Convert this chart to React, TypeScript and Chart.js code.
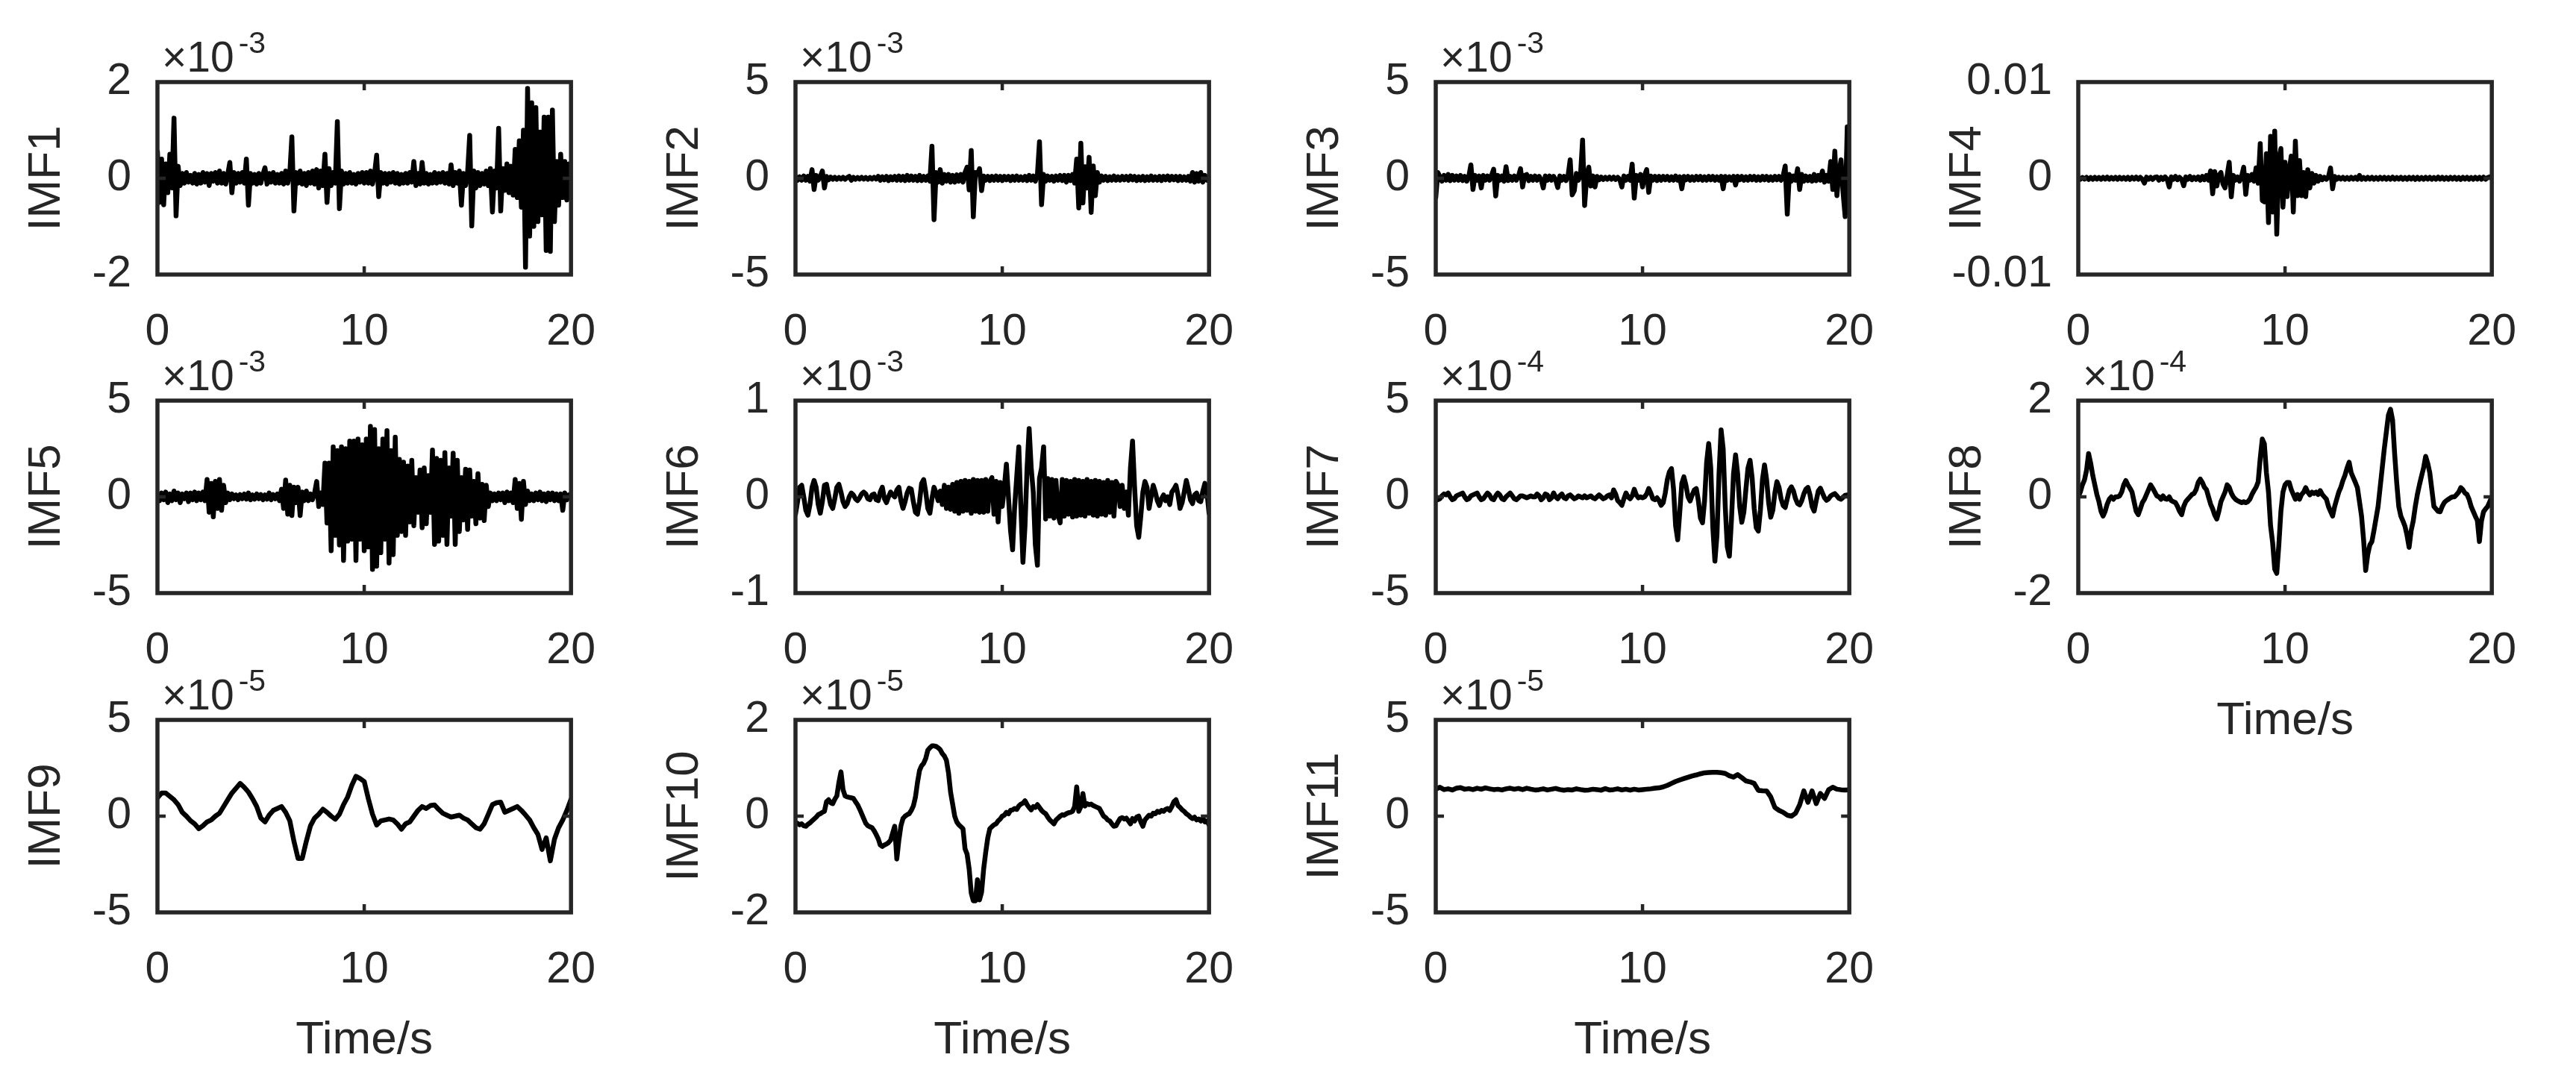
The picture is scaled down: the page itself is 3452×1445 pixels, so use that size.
import { useEffect, useRef } from 'react'
import { Chart, registerables } from 'chart.js'

Chart.register(...registerables)

// ---- data (values in the units shown on each y axis) ----
const imfNames = ['IMF1', 'IMF2', 'IMF3', 'IMF4', 'IMF5', 'IMF6', 'IMF7', 'IMF8', 'IMF9', 'IMF10', 'IMF11']
const exponents = ['-3', '-3', '-3', '', '-3', '-3', '-4', '-4', '-5', '-5', '-5']
const yLimits = [2, 5, 5, 10, 5, 1, 5, 2, 5, 2, 5]
const yTickLabels = [
  ['-2', '0', '2'],
  ['-5', '0', '5'],
  ['-5', '0', '5'],
  ['-0.01', '0', '0.01'],
  ['-5', '0', '5'],
  ['-1', '0', '1'],
  ['-5', '0', '5'],
  ['-2', '0', '2'],
  ['-5', '0', '5'],
  ['-2', '0', '2'],
  ['-5', '0', '5'],
]
const xTickValues = [0, 10, 20]
const xTickLabels = ['0', '10', '20']
const timeSpan = 20
const showTimeLabel = [false, false, false, false, false, false, false, true, true, true, true]

const imf1 = [
  0.55, -0.5, 0.4, -0.55, 0.3, -0.3, 0.5, -0.2, 1.25, -0.78,
  0.25, -0.15, 0.1, -0.1, 0.12, -0.08, 0.06, -0.1, 0.1, -0.12,
  0.08, -0.1, 0.12, -0.08, 0.1, -0.15, 0.1, -0.06, 0.12, -0.1,
  0.15, -0.1, 0.1, -0.12, 0.08, 0.33, -0.3, 0.12, -0.1, 0.1,
  -0.08, 0.12, -0.1, 0.4, -0.56, 0.1, -0.1, 0.08, -0.12, 0.1,
  -0.1, 0.08, 0.22, -0.12, 0.1, -0.08, 0.12, -0.1, 0.08, -0.1,
  0.1, -0.12, 0.15, -0.1, 0.1, 0.86, -0.68, 0.12, -0.1, 0.15,
  -0.12, 0.1, -0.15, 0.12, -0.1, 0.15, -0.12, 0.18, -0.2, 0.15,
  -0.15, 0.5, -0.5, 0.2, -0.15, 0.12, -0.1, 1.18, -0.63, 0.15,
  -0.12, 0.1, -0.1, 0.12, -0.1, 0.08, -0.12, 0.1, -0.08, 0.12,
  -0.1, 0.12, -0.1, 0.15, -0.12, 0.1, 0.48, -0.38, 0.12, -0.1,
  0.1, -0.12, 0.1, -0.08, 0.12, -0.1, 0.1, -0.12, 0.08, -0.1,
  0.1, -0.1, 0.12, -0.08, 0.35, -0.15, 0.1, -0.12, 0.33, -0.1,
  0.1, -0.12, 0.08, -0.1, 0.12, -0.1, 0.1, -0.08, 0.12, -0.1,
  0.1, -0.12, 0.28, -0.15, 0.12, -0.1, 0.15, -0.56, 0.1, -0.15,
  0.12, 0.89, -0.99, 0.15, -0.2, 0.12, -0.15, 0.1, -0.12, 0.15,
  -0.15, 0.2, -0.7, 0.15, -0.2, 1.04, -0.68, 0.2, -0.25, 0.3,
  -0.3, 0.25, -0.35, 0.6, -0.4, 0.78, -0.6, 1.0, -1.85, 1.87,
  -1.2, 1.57, -1.0, 1.47, -0.9, 0.96, -0.76, 1.27, -1.5, 1.27,
  -1.52, 1.42, -0.9, 0.35, -0.56, 0.5, -0.4, 0.35, -0.45, 0.3,
  -0.2,
]

const imf2 = [
  0.1, -0.1, 0.08, -0.1, 0.12, -0.1, 0.1, -0.15, 0.45, -0.58,
  0.15, -0.1, 0.1, 0.38, -0.5, 0.1, -0.08, 0.06, -0.05, 0.05,
  -0.05, 0.04, -0.04, 0.05, -0.05, 0.04, 0.1, -0.1, 0.05, -0.05,
  0.04, -0.04, 0.05, -0.04, 0.04, -0.05, 0.04, -0.04, 0.05, -0.04,
  0.1, -0.1, 0.08, -0.08, 0.1, -0.12, 0.08, -0.08, 0.1, -0.1,
  0.12, -0.1, 0.1, -0.12, 0.15, -0.1, 0.12, -0.1, 0.1, -0.12,
  0.15, -0.12, 0.1, -0.1, 0.12, -0.15, 1.67, -2.15, 0.3, -0.2,
  0.45, -0.25, 0.2, -0.15, 0.2, -0.2, 0.15, -0.2, 0.18, -0.15,
  0.2, -0.2, 0.3, 0.58, -0.6, 1.44, -2.0, 0.3, 0.2, 0.5,
  -0.64, 0.12, -0.1, 0.1, -0.12, 0.1, -0.1, 0.12, -0.1, 0.1,
  -0.12, 0.1, -0.08, 0.1, -0.12, 0.1, -0.1, 0.12, -0.1, 0.08,
  -0.1, 0.1, -0.12, 0.15, -0.1, 0.12, -0.15, 0.2, 1.9, -1.37,
  0.2, -0.15, 0.12, -0.1, 0.1, -0.15, 0.12, -0.1, 0.15, -0.12,
  0.15, -0.2, 0.15, -0.12, 0.2, -0.25, 1.0, -1.54, 1.82, -1.28,
  0.6, -0.5, 1.09, -1.77, 0.64, -0.9, 0.3, -0.2, 0.12, -0.1,
  0.1, -0.12, 0.08, -0.1, 0.12, -0.1, 0.08, -0.1, 0.1, -0.08,
  0.1, -0.1, 0.12, -0.08, 0.1, -0.12, 0.08, -0.1, 0.1, -0.12,
  0.08, -0.1, 0.12, -0.1, 0.08, -0.1, 0.1, -0.12, 0.1, -0.08,
  0.12, -0.1, 0.1, -0.08, 0.1, -0.12, 0.1, -0.1, 0.08, -0.1,
  0.1, -0.15, 0.3, -0.2, 0.25, -0.15, 0.3, -0.2, 0.15, -0.1,
  0.05,
]

const imf3 = [
  -1.0, 0.3, 0.1, -0.15, 0.15, -0.1, 0.2, -0.12, 0.15, -0.1,
  0.12, -0.1, 0.15, -0.12, 0.1, -0.15, 0.1, 0.7, -0.58, 0.15,
  -0.1, 0.12, -0.5, 0.15, -0.1, 0.12, -0.1, 0.15, 0.47, -0.92,
  0.15, -0.1, 0.12, -0.15, 0.6, -0.12, 0.1, -0.1, 0.12, -0.1,
  0.1, 0.5, -0.45, 0.15, 0.2, -0.12, 0.1, -0.1, 0.12, -0.1,
  0.1, -0.08, -0.5, 0.12, -0.1, 0.12, -0.1, 0.1, -0.08, -0.48,
  0.12, -0.1, 0.1, -0.12, 0.15, 0.96, -0.86, -0.64, 0.25, -0.1,
  0.15, 1.99, -1.41, 0.1, 0.58, -0.4, 0.12, -0.45, 0.1, -0.08,
  0.06, -0.06, 0.05, -0.05, 0.06, -0.05, 0.06, -0.06, 0.05, -0.05,
  -0.45, 0.12, -0.1, 0.1, -0.1, 0.74, -1.03, 0.15, -0.1, 0.2,
  -0.45, 0.15, 0.45, -0.73, 0.12, -0.1, 0.1, -0.12, 0.1, -0.1,
  0.1, -0.08, 0.1, -0.1, 0.08, -0.1, 0.12, -0.1, 0.08, -0.54,
  0.1, -0.08, 0.1, -0.1, 0.08, -0.1, 0.1, -0.08, 0.1, -0.1,
  0.08, -0.1, 0.1, -0.08, 0.1, -0.1, 0.08, -0.1, 0.1, -0.54,
  0.1, -0.1, 0.08, -0.1, 0.1, -0.35, 0.1, -0.08, 0.1, -0.1,
  0.08, -0.1, 0.1, -0.08, 0.1, -0.1, 0.08, -0.1, 0.1, -0.08,
  0.1, -0.1, 0.08, -0.1, 0.1, -0.08, 0.1, -0.1, 0.12, 0.64,
  -1.86, 0.2, -0.15, 0.12, -0.1, 0.5, -0.58, 0.2, -0.15, 0.12,
  -0.12, 0.1, -0.15, 0.2, -0.12, 0.15, -0.1, 0.38, -0.2, 0.15,
  -0.15, 0.87, -0.58, 1.41, -0.9, 0.3, 0.96, -0.77, -1.99, 2.67,
  -0.2,
]

// IMF4 in units of 1e-3 (axis labelled -0.01 .. 0.01)
const imf4 = [
  0.1, -0.1, 0.08, -0.08, 0.1, -0.12, 0.08, -0.1, 0.1, -0.08,
  0.08, -0.1, 0.1, -0.08, 0.12, -0.1, 0.08, -0.08, 0.1, -0.1,
  0.1, -0.08, 0.08, -0.1, 0.1, -0.12, 0.1, -0.08, 0.12, -0.1,
  0.1, -0.1, -0.5, 0.12, -0.1, 0.1, -0.12, 0.1, 0.15, -0.2,
  0.1, -0.12, 0.15, -0.1, -0.9, 0.15, -0.1, 0.2, -0.15, 0.1,
  -0.12, -0.77, 0.15, -0.1, 0.2, -0.15, 0.1, -0.12, 0.15, -0.2,
  0.2, -0.15, 0.3, -0.2, 0.77, -1.6, 0.7, -0.8, 0.3, 0.6,
  -0.6, -1.0, 0.3, 1.67, -1.92, 0.3, -0.2, 0.15, -0.3, 0.2,
  1.15, -1.67, 0.3, -0.2, 0.4, -0.3, 1.08, -0.5, 3.6, -2.3,
  -2.44, 2.56, -4.6, 4.36, -3.5, 4.9, -5.8, 2.0, 3.1, -3.0,
  1.67, -1.9, 0.8, 2.3, -3.5, 3.85, -1.8, 1.85, -1.8, 0.6,
  -1.9, 0.9, -1.0, 0.5, -0.5, 0.3, -0.3, 0.2, -0.15, 0.1,
  -0.1, 0.15, 1.08, -1.08, 0.2, -0.1, 0.1, -0.08, 0.1, -0.1,
  0.08, -0.1, 0.1, -0.08, 0.1, -0.1, 0.3, -0.1, 0.08, -0.1,
  0.1, -0.08, 0.1, -0.1, 0.08, -0.1, 0.1, -0.08, 0.1, -0.1,
  0.08, -0.1, 0.12, -0.1, 0.08, -0.08, 0.1, -0.1, 0.08, -0.1,
  0.1, -0.08, 0.1, -0.12, 0.1, -0.1, 0.08, -0.1, 0.1, -0.08,
  0.1, -0.1, 0.08, -0.1, 0.12, -0.08, 0.1, -0.1, 0.08, -0.1,
  0.1, -0.08, 0.1, -0.1, 0.08, -0.12, 0.1, -0.08, 0.1, -0.1,
  0.08, -0.1, 0.1, -0.08, 0.1, -0.1, 0.12, -0.1, 0.08, 0.15,
  0.1,
]

const imf5 = [
  0.1, -0.2, 0.2, -0.15, 0.25, -0.3, 0.15, -0.2, 0.3, -0.15,
  0.2, -0.3, 0.15, -0.1, 0.2, -0.25, 0.2, -0.15, 0.25, -0.2,
  0.2, -0.15, 0.25, -0.2, 0.9, -0.8, 0.7, -1.04, 0.8, -0.6,
  0.9, -0.7, 0.6, -0.3, 0.2, -0.15, 0.15, -0.1, 0.1, -0.15,
  0.12, -0.1, 0.15, -0.12, 0.2, -0.15, 0.1, -0.12, 0.15, -0.1,
  0.12, -0.15, 0.1, -0.12, 0.2, -0.15, 0.12, -0.1, 0.15, -0.2,
  0.4, -0.6, 0.87, -0.9, 0.6, -0.97, 0.5, -0.3, 0.5, -0.97,
  0.25, -0.2, 0.3, -0.2, 0.15, -0.15, 0.2, 0.8, -0.5, 0.2,
  -0.4, 1.75, -1.36, 1.75, -2.8, 2.6, -2.0, 2.4, -2.5, 2.6,
  -3.3, 2.5, -2.3, 2.9, -2.2, 2.9, -3.3, 3.0, -2.2, 2.7,
  -2.8, 3.0, -2.6, 3.66, -3.77, 3.5, -3.6, 2.5, -2.9, 3.0,
  -2.2, 3.44, -3.44, 2.4, -3.0, 3.1, -2.0, 1.95, -1.8, 1.8,
  -2.0, 1.6, -1.3, 1.9, -1.5, 1.0, -0.8, 1.4, -1.6, 1.5,
  -1.4, 1.1, -0.8, 2.43, -2.47, 2.0, -2.3, 1.9, -2.0, 2.3,
  -2.47, 1.5, -1.0, 2.27, -2.47, 1.9, -1.8, 1.0, -1.2, 1.43,
  -1.69, 1.4, -1.0, 0.8, -1.4, 1.2, -1.1, 0.65, -1.23, 0.6,
  -0.5, 0.2, -0.2, 0.15, -0.2, 0.2, -0.15, 0.2, -0.3, 0.25,
  -0.2, 0.2, -0.3, 0.9, -0.6, 0.7, -1.17, 0.8, -0.4, 0.3,
  -0.2, 0.15, -0.2, 0.2, -0.15, 0.25, -0.2, 0.15, -0.25, 0.2,
  -0.15, 0.2, -0.2, 0.15, -0.2, 0.15, -0.7, 0.2, -0.15, 0.1,
  0.0,
]

const imf6 = [
  -0.18, -0.05, 0.1, 0.12, 0.0, -0.14, -0.19, -0.08, 0.1, 0.17,
  0.1, -0.08, -0.17, -0.05, 0.12, 0.13, 0.02, -0.08, -0.12, -0.02,
  0.1, 0.13, 0.05, -0.05, -0.1, -0.07, 0.0, 0.04, 0.02, -0.02,
  -0.04, -0.01, 0.03, 0.05, 0.03, -0.02, -0.03, 0.02, 0.03, -0.03,
  -0.04, 0.05, 0.1, -0.02, -0.06, 0.0, 0.05, 0.02, 0.0, 0.07,
  0.1, -0.04, -0.12, -0.05, 0.04, 0.09, 0.08, -0.05, -0.16, -0.18,
  -0.05, 0.14, 0.18, 0.05, -0.12, -0.17, -0.02, 0.1, 0.04, -0.04,
  0.06, -0.08, 0.12, -0.12, 0.1, -0.13, 0.13, -0.15, 0.15, -0.17,
  0.16, -0.15, 0.17, -0.14, 0.16, -0.17, 0.18, -0.15, 0.17, -0.16,
  0.17, -0.16, 0.18, -0.15, 0.16, 0.2, -0.18, 0.16, -0.26, 0.15,
  -0.1, 0.1, 0.34, 0.0, -0.35, -0.55, -0.1, 0.21, 0.52, -0.1,
  -0.68, -0.3, 0.3, 0.71, 0.3, 0.05, -0.5, -0.71, 0.19, 0.3,
  0.52, -0.23, 0.19, -0.2, 0.18, -0.22, 0.17, -0.19, -0.27, 0.18,
  -0.2, 0.17, -0.18, 0.16, -0.21, 0.18, -0.2, 0.17, -0.19, 0.16,
  -0.2, 0.18, -0.17, 0.16, -0.19, 0.17, -0.2, 0.16, -0.18, 0.15,
  -0.19, 0.17, -0.16, 0.15, -0.2, 0.16, 0.12, -0.1, 0.12, -0.12,
  0.05, -0.19, 0.3, 0.58, 0.1, -0.3, -0.42, -0.2, 0.05, 0.16,
  0.1, -0.12, 0.0, 0.12, 0.05, -0.04, -0.09, -0.02, 0.02, -0.04,
  0.0, -0.08, 0.05, 0.08, 0.12, 0.02, -0.12, -0.06, 0.05, 0.17,
  0.08, -0.03, -0.07, 0.02, 0.04, -0.04, -0.05, 0.06, 0.14, 0.05,
  -0.17,
]

const imf7 = [
  0.0, -0.15, -0.1, 0.05, 0.15, 0.1, 0.2, 0.0, -0.15, -0.1,
  0.05, 0.1, 0.15, 0.2, 0.0, -0.15, -0.1, 0.05, 0.1, 0.15,
  0.2, 0.0, -0.15, -0.1, 0.05, 0.2, 0.1, -0.1, -0.15, 0.05,
  0.2, 0.1, -0.1, -0.15, 0.0, 0.1, 0.2, 0.05, -0.1, -0.15,
  -0.05, 0.05, 0.05, 0.0, -0.05, 0.0, 0.05, 0.0, 0.0, 0.15,
  0.05, -0.15, -0.05, 0.15, 0.1, -0.15, -0.05, 0.2, 0.0, -0.1,
  0.05, 0.15, -0.05, -0.1, 0.05, 0.1, 0.0, -0.1, -0.05, 0.05,
  0.0, -0.05, 0.05, -0.05, 0.0, 0.05, -0.05, -0.1, 0.0, 0.1,
  0.0, -0.1, -0.05, 0.05, 0.1, -0.05, 0.36, 0.15, -0.2, -0.3,
  -0.44, -0.1, 0.2, 0.0, -0.1, 0.05, 0.39, 0.1, -0.05, 0.0,
  -0.05, 0.0, 0.15, 0.43, 0.2, -0.1, -0.15, -0.05, -0.2, -0.44,
  -0.3, 0.2, 0.9, 1.3, 1.47, 0.4, -1.5, -2.23, -0.8, 0.7,
  1.04, 0.6, 0.0, -0.22, 0.1, 0.35, 0.43, -0.2, -1.1, -1.35,
  -0.2, 1.8, 2.77, 1.5, -1.6, -3.34, -2.0, 1.2, 3.48, 2.5,
  -0.5, -2.6, -3.08, -1.2, 1.2, 2.18, 1.2, -0.5, -1.32, -0.8,
  0.4, 1.5, 1.9, 1.0, -0.6, -1.6, -1.78, -0.7, 0.9, 1.66,
  0.9, -0.3, -1.06, -0.7, 0.2, 0.79, 0.5, -0.1, -0.45, -0.55,
  -0.1, 0.35, 0.52, 0.3, -0.1, -0.35, -0.42, -0.2, 0.15, 0.4,
  0.49, 0.1, -0.5, -0.74, -0.2, 0.3, 0.45, 0.2, -0.05, -0.18,
  -0.1, 0.05, 0.12, 0.17, 0.05, -0.08, -0.12, -0.02, 0.08, 0.1,
  0.0,
]

const imf8 = [
  0.0, 0.1, 0.25, 0.35, 0.55, 0.9, 0.7, 0.45, 0.25, 0.05,
  -0.1, -0.3, -0.4, -0.3, -0.15, -0.05, 0.0, -0.05, 0.0, 0.0,
  0.02, 0.1, 0.25, 0.34, 0.25, 0.18, 0.1, -0.1, -0.3, -0.37,
  -0.25, -0.12, -0.05, 0.05, 0.15, 0.25, 0.18, 0.1, 0.02, 0.0,
  -0.05, 0.02, -0.04, -0.05, 0.0, -0.08, -0.1, -0.12, -0.2, -0.3,
  -0.37, -0.2, -0.1, -0.05, 0.0, 0.05, 0.07, 0.15, 0.3, 0.37,
  0.3, 0.2, 0.15, 0.0, -0.15, -0.25, -0.38, -0.46, -0.3, -0.1,
  0.0, 0.1, 0.25, 0.2, 0.08, 0.0, -0.05, -0.08, -0.1, -0.12,
  -0.1, -0.12, -0.1, -0.05, 0.05, 0.13, 0.2, 0.31, 0.8, 1.2,
  1.1, 0.5, 0.1, -0.6, -0.95, -1.5, -1.59, -1.0, -0.3, 0.1,
  0.25, 0.3, 0.3, 0.15, 0.05, -0.05, 0.05, -0.05, 0.05, 0.1,
  0.19, 0.1, 0.04, 0.1, 0.07, 0.1, 0.05, 0.13, 0.05, 0.0,
  -0.05, -0.2, -0.3, -0.4, -0.2, -0.05, 0.1, 0.2, 0.34, 0.45,
  0.6, 0.72, 0.5, 0.4, 0.3, 0.19, -0.1, -0.4, -0.9, -1.53,
  -1.2, -1.0, -0.93, -0.7, -0.45, -0.2, 0.2, 0.6, 1.0, 1.35,
  1.7, 1.82, 1.6, 0.9, 0.3, -0.2, -0.4, -0.5, -0.61, -0.8,
  -1.05, -0.7, -0.5, -0.2, 0.05, 0.25, 0.43, 0.6, 0.84, 0.7,
  0.5, 0.15, -0.2, -0.25, -0.3, -0.31, -0.2, -0.12, -0.08, -0.05,
  -0.02, 0.0, 0.0, 0.05, 0.1, 0.19, 0.15, 0.08, 0.05, -0.05,
  -0.2, -0.3, -0.4, -0.49, -0.93, -0.5, -0.31, -0.25, -0.2, -0.1,
  0.0,
]

const imf9 = [
  0.95, 1.2, 1.2, 1.03, 0.85, 0.6, 0.2, 0.0, -0.24, -0.4,
  -0.65, -0.5, -0.3, -0.2, 0.0, 0.15, 0.5, 0.85, 1.2, 1.45,
  1.7, 1.5, 1.25, 0.9, 0.5, -0.1, -0.3, 0.05, 0.3, 0.4,
  0.5, 0.2, -0.24, -1.3, -2.2, -2.2, -1.3, -0.5, -0.1, 0.1,
  0.36, 0.2, 0.0, -0.16, 0.1, 0.6, 1.0, 1.6, 2.07, 1.95,
  1.8, 0.9, 0.1, -0.46, -0.25, -0.2, -0.15, -0.2, -0.4, -0.68,
  -0.4, -0.3, 0.0, 0.3, 0.5, 0.4, 0.55, 0.58, 0.35, 0.15,
  0.05, -0.05, 0.0, 0.05, -0.1, -0.2, -0.4, -0.6, -0.68, -0.4,
  0.1, 0.6, 0.7, 0.73, 0.2, 0.3, 0.4, 0.5, 0.3, 0.06,
  -0.2, -0.6, -0.95, -1.73, -1.13, -2.32, -1.2, -0.6, -0.2, 0.3,
  0.88,
]

const imf10 = [
  -0.13, -0.15, -0.18, -0.16, -0.2, -0.21, -0.17, -0.14, -0.1, -0.06,
  -0.02, 0.03, 0.05, 0.08, 0.1, 0.3, 0.34, 0.28, 0.26, 0.35,
  0.42, 0.7, 0.92, 0.55, 0.42, 0.4, 0.39, 0.38, 0.37, 0.3,
  0.24, 0.15, 0.05, -0.05, -0.15, -0.2, -0.22, -0.24, -0.3, -0.38,
  -0.47, -0.6, -0.63, -0.6, -0.58, -0.55, -0.5, -0.35, -0.21, -0.89,
  -0.5, -0.2, -0.05, 0.0, 0.03, 0.05, 0.12, 0.21, 0.39, 0.7,
  0.95, 1.05, 1.1, 1.2, 1.37, 1.42, 1.46, 1.46, 1.45, 1.42,
  1.38, 1.3, 1.25, 1.16, 0.9, 0.5, 0.25, 0.0, -0.12, -0.18,
  -0.22, -0.26, -0.68, -0.79, -1.1, -1.6, -1.76, -1.76, -1.32, -1.74,
  -1.58, -1.1, -0.75, -0.45, -0.26, -0.22, -0.18, -0.16, -0.1, -0.06,
  0.0, 0.02, 0.08, 0.05, 0.12, 0.13, 0.16, 0.14, 0.21, 0.25,
  0.27, 0.32, 0.24, 0.18, 0.13, 0.2, 0.18, 0.24, 0.18, 0.12,
  0.08, 0.05, -0.02, -0.08, -0.12, -0.16, -0.08, -0.04, 0.0, 0.03,
  0.02, 0.05, 0.07, 0.08, 0.1, 0.2, 0.61, 0.1, 0.2, 0.47,
  0.21, 0.26, 0.24, 0.25, 0.22, 0.2, 0.18, 0.16, 0.08, 0.0,
  -0.03, -0.08, -0.1, -0.16, -0.21, -0.2, -0.12, -0.05, -0.03, -0.06,
  -0.04, -0.1, -0.16, -0.05, -0.1, -0.02, 0.0, -0.12, -0.21, -0.08,
  -0.03, 0.02, 0.0, 0.06, 0.05, 0.1, 0.08, 0.12, 0.1, 0.14,
  0.16, 0.12, 0.2, 0.3, 0.34, 0.22, 0.18, 0.13, 0.1, 0.05,
  0.02, -0.02, -0.05, -0.02, -0.08, -0.06, -0.1, -0.04, -0.12, -0.1,
  -0.18,
]

const imf11 = [
  1.4, 1.5, 1.38, 1.42, 1.36, 1.45, 1.48, 1.4, 1.43, 1.38,
  1.45, 1.4, 1.47, 1.42, 1.38, 1.4, 1.36, 1.42, 1.45, 1.4,
  1.44, 1.38, 1.45, 1.4, 1.36, 1.38, 1.42, 1.36, 1.4, 1.44,
  1.38, 1.35, 1.38, 1.36, 1.42, 1.38, 1.35, 1.36, 1.4, 1.38,
  1.35, 1.43, 1.36, 1.38, 1.42, 1.36, 1.4, 1.35, 1.4, 1.36,
  1.38, 1.4, 1.42, 1.45, 1.47, 1.52, 1.6, 1.7, 1.8, 1.88,
  1.95, 2.02, 2.09, 2.14, 2.2, 2.25, 2.27, 2.28, 2.28, 2.26,
  2.22, 2.1, 2.03, 2.16, 2.0, 1.83, 1.78, 1.7, 1.34, 1.32,
  1.31, 1.0, 0.45, 0.3, 0.2, 0.05, 0.0, 0.15, 0.59, 1.31,
  0.72, 1.31, 0.65, 1.18, 0.92, 1.37, 1.5, 1.4, 1.37, 1.36,
  1.37,
]

const signals = [imf1, imf2, imf3, imf4, imf5, imf6, imf7, imf8, imf9, imf10, imf11]

// ---- layout ----
const colLeft = [211, 1066, 1924, 2785]
const rowTop = [110, 537, 965]
const BOX_W = 579
const BOX_H = 258
const Y_AXIS_W = 210
const PAD_TOP = 80
const PAD_RIGHT = 50
const X_AXIS_H = 220
const FONT = "'Liberation Sans', Arial, Helvetica, sans-serif"
const TEXT = '#262626'

const framePlugin = {
  id: 'imfFrame',
  afterDraw(chart: any, _args: any, opts: any) {
    const { ctx, chartArea: a, scales } = chart
    ctx.save()
    ctx.strokeStyle = TEXT
    ctx.lineWidth = 5.5
    ctx.strokeRect(a.left, a.top, a.right - a.left, a.bottom - a.top)

    // inward tick marks at x = 10 and y = 0
    ctx.lineWidth = 4.5
    const xm = scales.x.getPixelForValue(10)
    const y0 = scales.y.getPixelForValue(0)
    ctx.beginPath()
    ctx.moveTo(xm, a.bottom)
    ctx.lineTo(xm, a.bottom - 11)
    ctx.moveTo(xm, a.top)
    ctx.lineTo(xm, a.top + 11)
    ctx.moveTo(a.left, y0)
    ctx.lineTo(a.left + 11, y0)
    ctx.moveTo(a.right, y0)
    ctx.lineTo(a.right - 11, y0)
    ctx.stroke()

    // exponent label, e.g. x10^-3
    if (opts.exponent) {
      ctx.fillStyle = TEXT
      ctx.textAlign = 'left'
      ctx.textBaseline = 'alphabetic'
      ctx.font = `57px ${FONT}`
      const x0 = a.left + 6
      const yb = a.top - 14
      ctx.fillText('\u00d710', x0, yb)
      const w = ctx.measureText('\u00d710').width
      ctx.font = `41px ${FONT}`
      ctx.fillText(opts.exponent, x0 + w + 6, yb - 25)
    }
    ctx.restore()
  },
}

function ImfPanel({ index }: { index: number }) {
  const canvasRef = useRef<HTMLCanvasElement>(null)

  useEffect(() => {
    if (!canvasRef.current) return
    const values = signals[index]
    const n = values.length
    const points = values.map((v, i) => ({ x: (i * timeSpan) / (n - 1), y: v }))
    const lim = yLimits[index]
    const labels = yTickLabels[index]

    const chart = new Chart(canvasRef.current, {
      type: 'line',
      data: {
        datasets: [
          {
            data: points,
            borderColor: '#000000',
            borderWidth: 6.5,
            borderJoinStyle: 'round',
            borderCapStyle: 'round',
            pointRadius: 0,
            tension: 0,
            fill: false,
          },
        ],
      },
      options: {
        animation: false,
        responsive: false,
        events: [],
        layout: { padding: { left: 0, top: PAD_TOP, right: PAD_RIGHT, bottom: 0 } },
        plugins: {
          legend: { display: false },
          tooltip: { enabled: false },
          // @ts-ignore
          imfFrame: { exponent: exponents[index] },
        },
        scales: {
          x: {
            type: 'linear',
            min: 0,
            max: timeSpan,
            position: 'bottom',
            grid: { display: false, drawTicks: false, tickLength: 0 },
            border: { display: false },
            ticks: {
              stepSize: 10,
              padding: 42,
              color: TEXT,
              maxRotation: 0,
              autoSkip: false,
              font: { family: FONT, size: 59 },
              callback: (v: any) => {
                const k = xTickValues.indexOf(Number(v))
                return k >= 0 ? xTickLabels[k] : ''
              },
            },
            title: {
              display: showTimeLabel[index],
              text: 'Time/s',
              color: TEXT,
              font: { family: FONT, size: 62 },
              padding: { top: 0, bottom: 11 },
            },
            afterFit: (s: any) => {
              s.height = X_AXIS_H
            },
          },
          y: {
            type: 'linear',
            min: -lim,
            max: lim,
            position: 'left',
            grid: { display: false, drawTicks: false, tickLength: 0 },
            border: { display: false },
            ticks: {
              stepSize: lim,
              padding: 35,
              color: TEXT,
              autoSkip: false,
              font: { family: FONT, size: 59 },
              callback: (v: any) => {
                const num = Number(v)
                if (Math.abs(num + lim) < 1e-9) return labels[0]
                if (Math.abs(num) < 1e-9) return labels[1]
                if (Math.abs(num - lim) < 1e-9) return labels[2]
                return ''
              },
            },
            title: {
              display: true,
              text: imfNames[index],
              color: TEXT,
              font: { family: FONT, size: 62 },
              padding: { top: 25, bottom: 0 },
            },
            afterFit: (s: any) => {
              s.width = Y_AXIS_W
            },
          },
        },
      },
      plugins: [framePlugin],
    })

    return () => {
      chart.destroy()
    }
  }, [index])

  const row = Math.floor(index / 4)
  const col = index % 4
  const width = Y_AXIS_W + BOX_W + PAD_RIGHT
  const height = PAD_TOP + BOX_H + X_AXIS_H

  return (
    <div
      style={{
        position: 'absolute',
        left: colLeft[col] - Y_AXIS_W,
        top: rowTop[row] - PAD_TOP,
        width,
        height,
      }}
    >
      <canvas ref={canvasRef} width={width} height={height} style={{ display: 'block' }} />
    </div>
  )
}

export default function App() {
  return (
    <div
      style={{
        position: 'absolute',
        left: 0,
        top: 0,
        width: 3452,
        height: 1445,
        background: '#ffffff',
        overflow: 'hidden',
      }}
    >
      {imfNames.map((name, i) => (
        <ImfPanel key={name} index={i} />
      ))}
    </div>
  )
}
